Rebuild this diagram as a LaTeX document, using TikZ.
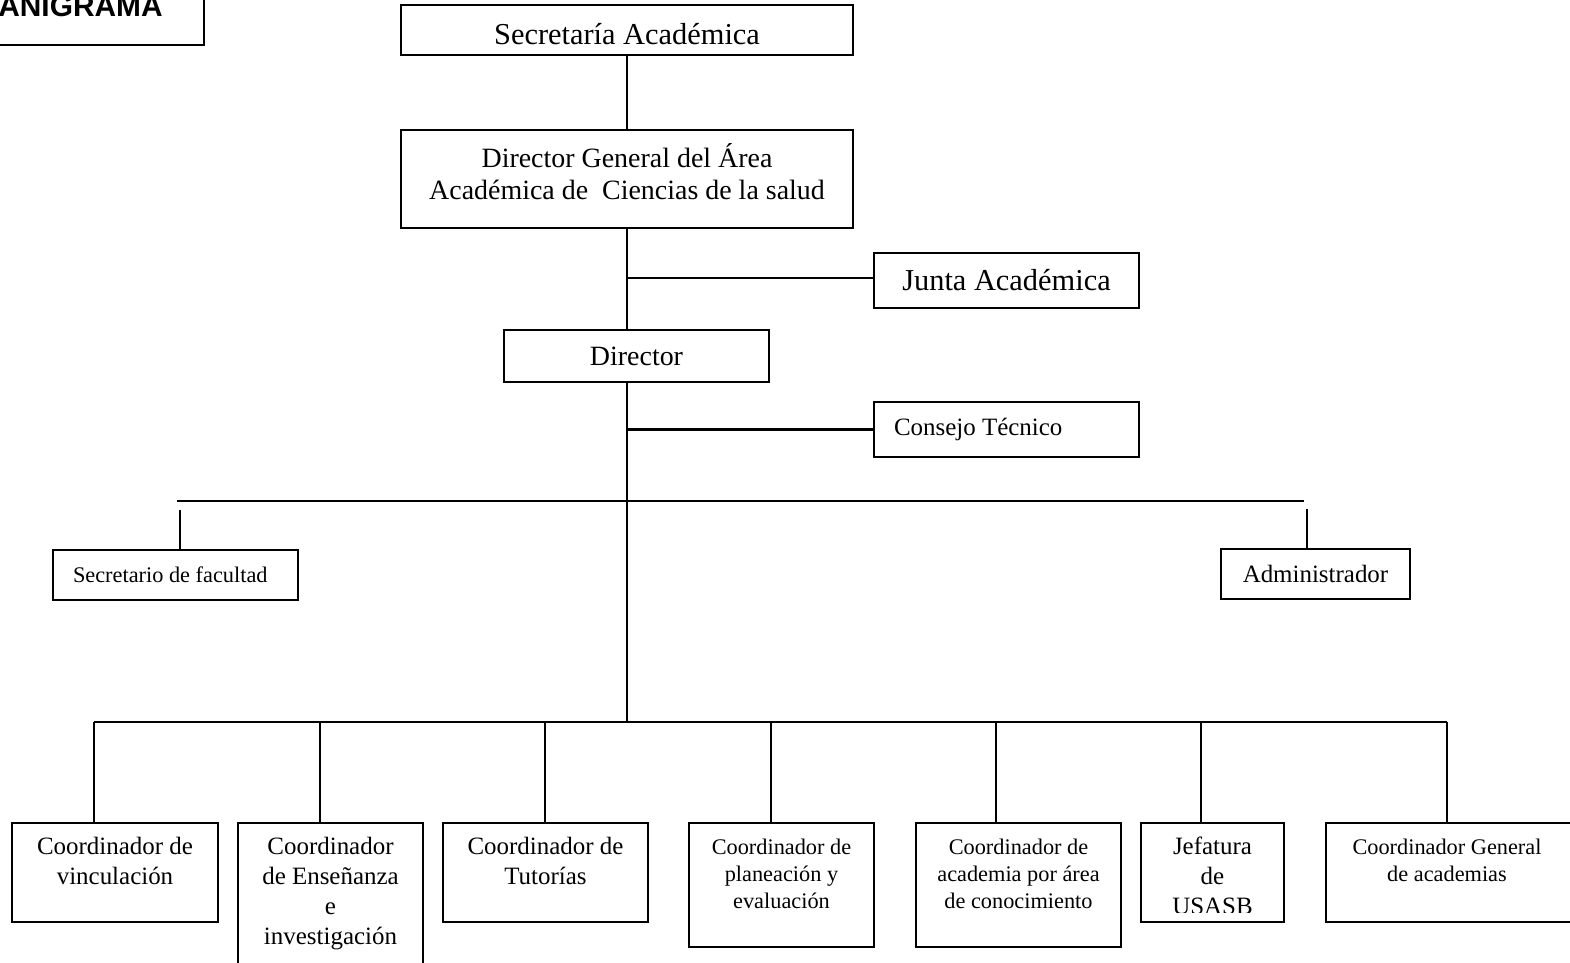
\documentclass[tikz,border=0pt]{standalone}
\usepackage{fontspec}
\setmainfont{Liberation Serif}
\newfontfamily\titlefont{Liberation Sans}
\usepackage{xcolor,tikz}
\usetikzlibrary{calc,positioning}
\tikzset{>=stealth}
\newcommand{\pxl}{0.02cm}
\newcommand{\hugetxt}{\fontsize{17.3}{20}\selectfont}
\newcommand{\bigtxt}{\fontsize{15.9}{18.2}\selectfont}
\newcommand{\midtxt}{\fontsize{14.2}{17}\selectfont}
\newcommand{\smltxt}{\fontsize{12.7}{15.3}\selectfont}
\tikzset{
  caja/.style={draw, line width=1.1pt, inner sep=0pt, align=center},
  tam/.style 2 args={minimum width=#1*\pxl, minimum height=#2*\pxl},
  rotulo/.style={inner sep=0pt, align=center, anchor=north},
  linea/.style={line width=0.8pt},
}

\begin{document}
\begin{tikzpicture}[x=\pxl, y=-\pxl]
\useasboundingbox (0,0) rectangle (1570,963);
\clip (0,0) rectangle (1570,963);
% titulo
\node[caja, tam={214}{55}] (titulo) at (97,17.5) {};
\node[anchor=base west, inner sep=0pt, font=\titlefont\bfseries\fontsize{17}{20}\selectfont] (titulotxt) at (-2,17) {ANIGRAMA};
%%%%%%%%%%%%
\node[caja, tam={452}{50}, font=\hugetxt] (secac) at (627,30) {\raisebox{-0.08cm}[\height][\depth]{Secretaría Académica}};
\node[caja, tam={452}{98}] (dirgen) at (627,179) {};
\node[rotulo, font=\bigtxt, yshift=-0.28cm] (tdirgen) at (dirgen.north) {Director General del Área\\Académica de\ \ Ciencias de la salud};
\node[caja, tam={265}{55}, font=\hugetxt] (junta) at (1006.5,280.5) {Junta Académica};
\node[caja, tam={265}{52}, font=\bigtxt] (director) at (636.5,356) {Director};
\node[caja, tam={265}{55}, font=\midtxt, align=flush left, text width=4.5cm, inner xsep=0.4cm] (consejo) at (1006.5,429.5) {Consejo Técnico};
\node[caja, tam={245}{50}, font=\smltxt, align=flush left, text width=4.1cm, inner xsep=0.4cm] (secfac) at (175.5,575) {Secretario de facultad};
\node[caja, tam={189}{50}, font=\midtxt] (admin) at (1315.5,574) {Administrador};
\coordinate (eje) at (627,722);
\coordinate (izq) at (177,501);
\coordinate (der) at (1304,501);
\coordinate (izqb) at (180,510);
\coordinate (derb) at (1307,509);
\draw[linea] (secac.south -| dirgen.north) -- (dirgen.north);
\draw[linea] (dirgen.south) -- (dirgen.south |- director.north);
\draw[linea] (dirgen.south |- 0,278) -- (junta.west |- 0,278);
\draw[linea] (dirgen.south |- director.south) -- (eje);
\draw[line width=1.6pt] (eje |- consejo.west) -- (consejo.west);
\draw[linea] (izq) -- (der);
\draw[linea] (izqb) -- (izqb |- secfac.north);
\draw[linea] (derb) -- (derb |- admin.north);
%%%%%%%%%%%%
\coordinate (c1) at (94,722);
\coordinate (c2) at (320,722);
\coordinate (c3) at (545,722);
\coordinate (c4) at (771,722);
\coordinate (c5) at (996,722);
\coordinate (c6) at (1201,722);
\coordinate (c7) at (1447,722);
\node[caja, tam={206}{99}] (coorvin) at (115,872.5) {};
\node[caja, tam={185}{180}] (cooren) at (330.5,913) {};
\node[caja, tam={205}{99}] (coortut) at (545.5,872.5) {};
\node[caja, tam={185}{124}] (coorpla) at (781.5,885) {};
\node[caja, tam={205}{124}] (cooraca) at (1018.5,885) {};
\node[caja, tam={143}{99}] (jefa) at (1212.5,872.5) {};
\node[caja, tam={274}{99}] (coorgen) at (1463,872.5) {};
\node[rotulo, font=\midtxt, yshift=-0.3cm] (tvin) at (coorvin.north) {Coordinador de\\vinculación};
\node[rotulo, font=\midtxt, yshift=-0.3cm] (ten) at (cooren.north) {Coordinador\\de Enseñanza\\e\\investigación};
\node[rotulo, font=\midtxt, yshift=-0.3cm] (ttut) at (coortut.north) {Coordinador de\\Tutorías};
\node[rotulo, font=\smltxt, yshift=-0.34cm] (tpla) at (coorpla.north) {Coordinador de\\planeación y\\evaluación};
\node[rotulo, font=\smltxt, yshift=-0.34cm] (taca) at (cooraca.north) {Coordinador de\\academia por área\\de conocimiento};
\begin{scope}
\clip (jefa.north west) rectangle ($(jefa.south east)+(0,-10)$);
\node[rotulo, font=\midtxt, yshift=-0.3cm] (tjefa) at (jefa.north) {Jefatura\\de\\USASB};
\end{scope}
\node[rotulo, font=\smltxt, yshift=-0.34cm] (tgen) at (c7 |- coorgen.north) {Coordinador General\\de academias};
\draw[linea] (c1) -- (c7);
\draw[linea] (c1) -- (c1 |- coorvin.north);
\draw[linea] (c2) -- (c2 |- cooren.north);
\draw[linea] (c3) -- (c3 |- coortut.north);
\draw[linea] (c4) -- (c4 |- coorpla.north);
\draw[linea] (c5) -- (c5 |- cooraca.north);
\draw[linea] (c6) -- (c6 |- jefa.north);
\draw[linea] (c7) -- (c7 |- coorgen.north);
\end{tikzpicture}
\end{document}
